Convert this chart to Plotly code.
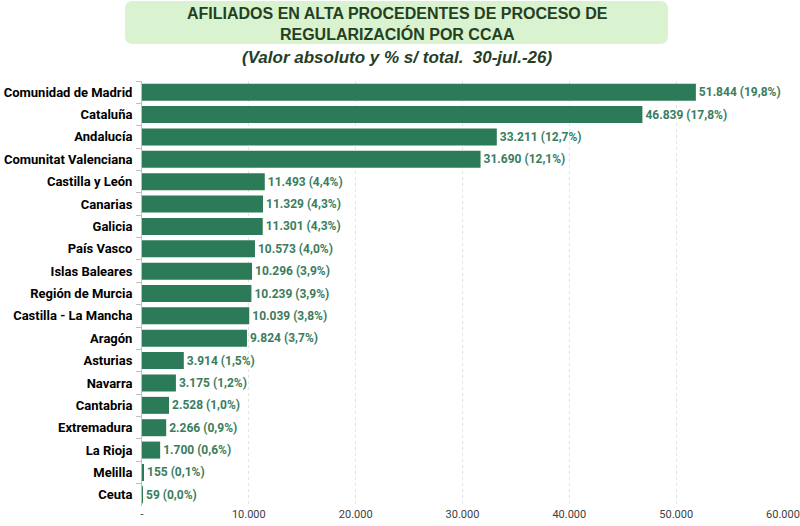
import plotly.graph_objects as go

# ---------------------------
# DATA
# ---------------------------
REGIONS = ["Comunidad de Madrid", "Cataluña", "Andalucía", "Comunitat Valenciana",
           "Castilla y León", "Canarias", "Galicia", "País Vasco", "Islas Baleares",
           "Región de Murcia", "Castilla - La Mancha", "Aragón", "Asturias", "Navarra",
           "Cantabria", "Extremadura", "La Rioja", "Melilla", "Ceuta"]
AFILIADOS = [51844, 46839, 33211, 31690, 11493, 11329, 11301, 10573, 10296,
             10239, 10039, 9824, 3914, 3175, 2528, 2266, 1700, 155, 59]
PCT = [19.8, 17.8, 12.7, 12.1, 4.4, 4.3, 4.3, 4.0, 3.9,
       3.9, 3.8, 3.7, 1.5, 1.2, 1.0, 0.9, 0.6, 0.1, 0.0]
TICK_VALS = [0, 10000, 20000, 30000, 40000, 50000, 60000]
TICK_TEXT = ["-", "10.000", "20.000", "30.000", "40.000", "50.000", "60.000"]

BAR_COLOR = "#2B7A58"
TITLE_COLOR = "#24401F"

W, H = 800, 526
ML, MR, MT, MB = 142, 17, 81, 20


def fmt(v):
    return f"{v:,}".replace(",", ".")


labels = [f"{fmt(v)} ({str(p).replace('.', ',')}%)" for v, p in zip(AFILIADOS, PCT)]

fig = go.Figure(go.Bar(
    x=AFILIADOS,
    y=REGIONS,
    orientation="h",
    marker=dict(color=BAR_COLOR, line=dict(width=0)),
    text=labels,
    textposition="outside",
    textfont=dict(family="Roboto, Open Sans, sans-serif", size=12, color="#3A7D5E",
                  weight="bold"),
    cliponaxis=False,
))


# title box, pixel coords -> paper coords
def px(x):
    return (x - ML) / (W - ML - MR)


def py(y):
    return (H - MB - y) / (H - MT - MB)


x0, x1, y0, y1, r = 125, 668, 1, 44, 8
path = (f"M {px(x0 + r)} {py(y0)} L {px(x1 - r)} {py(y0)} "
        f"Q {px(x1)} {py(y0)} {px(x1)} {py(y0 + r)} L {px(x1)} {py(y1 - r)} "
        f"Q {px(x1)} {py(y1)} {px(x1 - r)} {py(y1)} L {px(x0 + r)} {py(y1)} "
        f"Q {px(x0)} {py(y1)} {px(x0)} {py(y1 - r)} L {px(x0)} {py(y0 + r)} "
        f"Q {px(x0)} {py(y0)} {px(x0 + r)} {py(y0)} Z")
fig.add_shape(type="path", path=path, xref="paper", yref="paper",
              fillcolor="#D9F2D0", line=dict(width=0), layer="below")

fig.add_annotation(x=px(397), y=py(24), xref="paper", yref="paper",
                   text="<b>AFILIADOS EN ALTA PROCEDENTES DE PROCESO DE<br>REGULARIZACIÓN POR CCAA</b>",
                   showarrow=False, xanchor="center", yanchor="middle",
                   font=dict(family="Liberation Sans, Arial, sans-serif", size=16, color=TITLE_COLOR))
fig.add_annotation(x=px(397), y=py(57), xref="paper", yref="paper",
                   text="<b><i>(Valor absoluto y % s/ total.  30-jul.-26)</i></b>",
                   showarrow=False, xanchor="center", yanchor="middle",
                   font=dict(family="Liberation Sans, Arial, sans-serif", size=17, color="#263D26"))

fig.update_layout(
    width=W, height=H,
    margin=dict(l=ML, r=MR, t=MT, b=MB, autoexpand=False),
    plot_bgcolor="white",
    paper_bgcolor="white",
    showlegend=False,
    bargap=0.24,
    xaxis=dict(range=[0, 60000], tickvals=TICK_VALS, ticktext=TICK_TEXT,
               showgrid=True, gridcolor="#E3E3E3", griddash="dot", gridwidth=1,
               zeroline=False, showline=False, ticks="", automargin=False,
               tickfont=dict(family="Roboto, sans-serif", size=11, color="#404040")),
    yaxis=dict(autorange="reversed", showline=True, linecolor="#BFBFBF", linewidth=1,
               ticks="outside", tickson="boundaries", ticklen=5, tickcolor="#BFBFBF",
               showgrid=False, automargin=False, ticklabelstandoff=6,
               tickfont=dict(family="Roboto, sans-serif", size=13, color="black",
                             weight="bold")),
)

fig.write_html("out.html", config={"displayModeBar": False},
               post_script="document.body.style.margin='0';document.body.style.overflow='hidden';")
